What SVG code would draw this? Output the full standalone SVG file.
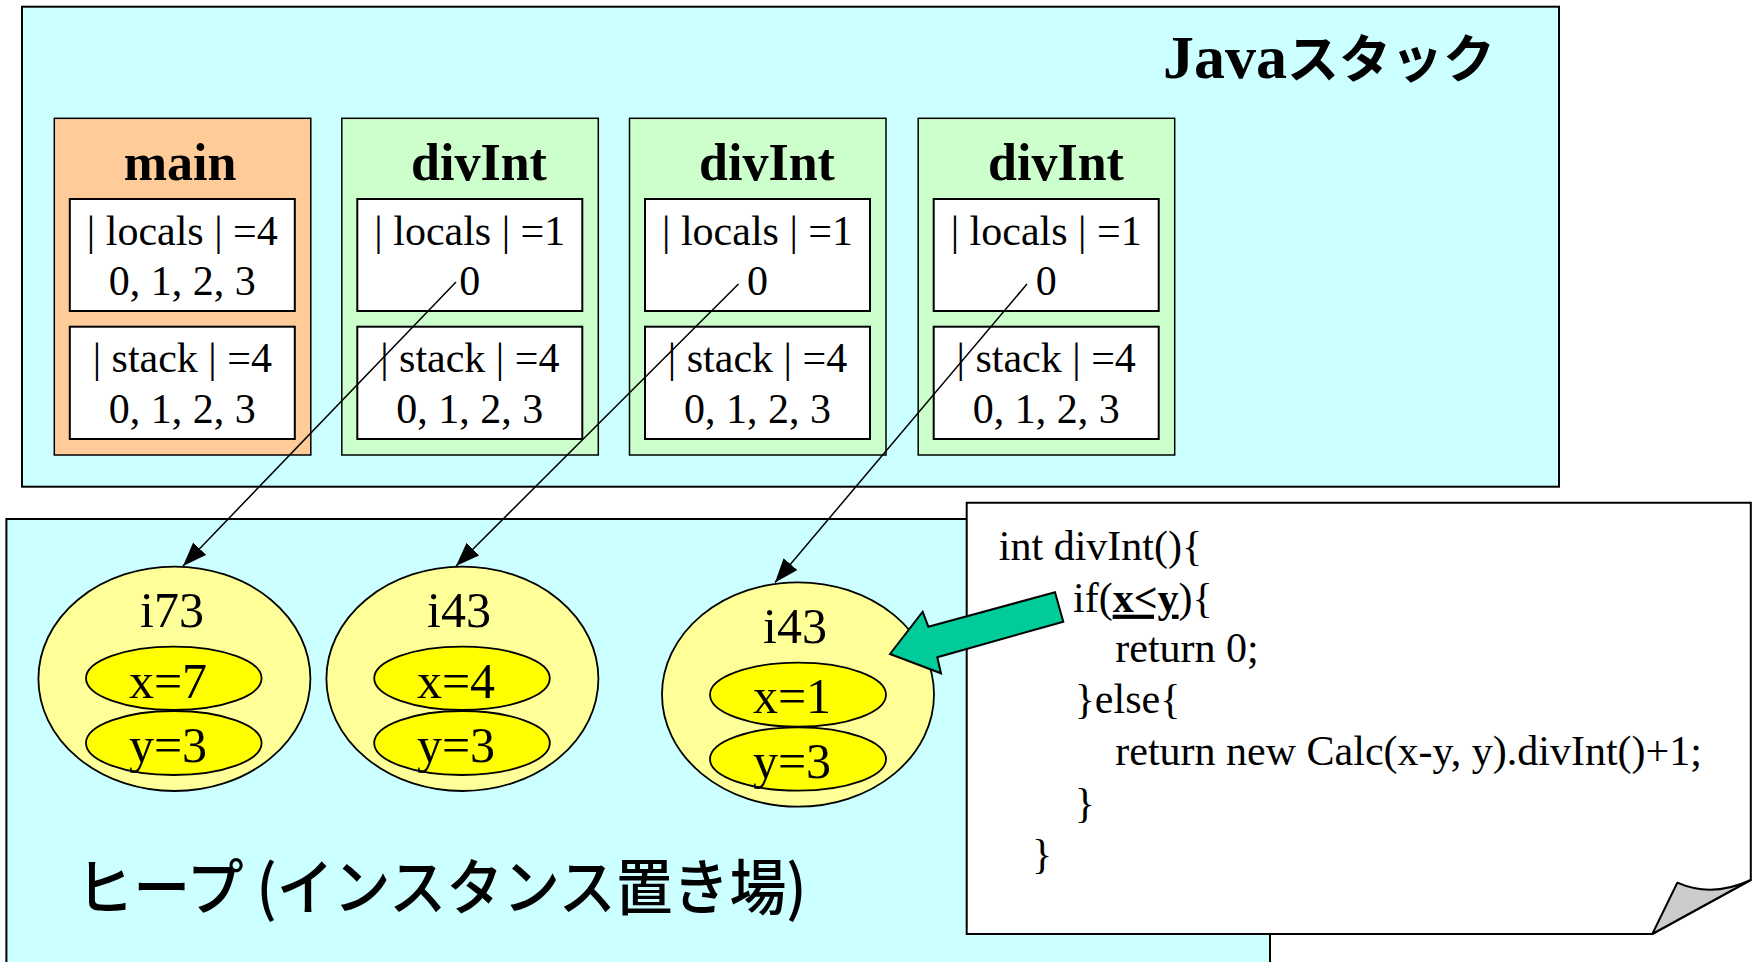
<svg xmlns="http://www.w3.org/2000/svg" width="1755" height="962" viewBox="0 0 1755 962">
<style>
.box{stroke:#000;stroke-width:2}
.area{fill:#CCFFFF;stroke:#000;stroke-width:2}
.mainf{fill:#FFCC99;stroke:#000;stroke-width:1.5}
.divf{fill:#CCFFCC;stroke:#000;stroke-width:1.5}
.cell{fill:#FFFFFF;stroke:#000;stroke-width:2}
.obj{fill:#FFFF99;stroke:#000;stroke-width:1.8}
.fld{fill:#FFFF00;stroke:#000;stroke-width:1.8}
.t{font-family:"Liberation Serif","Times New Roman",serif;fill:#000}
.title{font-size:52px;font-weight:bold;text-anchor:middle}
.cellt{font-size:42px;text-anchor:middle}
.heapt{font-size:50px;text-anchor:middle}
.code{font-size:42px}
.conn{stroke:#000;stroke-width:1.5;fill:none}
</style>
<defs>
<marker id="ah" markerUnits="userSpaceOnUse" markerWidth="26" markerHeight="20" refX="24" refY="9" orient="auto">
<path d="M0,0 L24,9 L0,18 Z" fill="#000"/>
</marker>
</defs>

<g id="java-stack">
<rect class="area" x="22" y="6.7" width="1537" height="480"/>
<text class="t" x="1163" y="78" font-size="62" font-weight="bold">Java<tspan font-family="'Noto Sans CJK JP',sans-serif" font-size="52" font-weight="bold">スタック</tspan></text>
</g>

<g id="frame-main">
<rect class="mainf" x="54.3" y="118.3" width="256.5" height="336.7"/>
<text class="t title" x="180" y="180">main</text>
<rect class="cell" x="69.8" y="199" width="225" height="112"/>
<text class="t cellt" x="182.3" y="245">| locals | =4</text>
<text class="t cellt" x="182.3" y="295">0, 1, 2, 3</text>
<rect class="cell" x="69.8" y="326.7" width="225" height="112.3"/>
<text class="t cellt" x="182.3" y="372">| stack | =4</text>
<text class="t cellt" x="182.3" y="423">0, 1, 2, 3</text>
</g>

<g id="frame-divInt-1">
<rect class="divf" x="341.8" y="118.3" width="256.5" height="336.7"/>
<text class="t title" x="479" y="180">divInt</text>
<rect class="cell" x="357.3" y="199" width="225" height="112"/>
<text class="t cellt" x="469.8" y="245">| locals | =1</text>
<text class="t cellt" x="469.8" y="295">0</text>
<rect class="cell" x="357.3" y="326.7" width="225" height="112.3"/>
<text class="t cellt" x="469.8" y="372">| stack | =4</text>
<text class="t cellt" x="469.8" y="423">0, 1, 2, 3</text>
</g>

<g id="frame-divInt-2">
<rect class="divf" x="629.5" y="118.3" width="256.5" height="336.7"/>
<text class="t title" x="767" y="180">divInt</text>
<rect class="cell" x="645" y="199" width="225" height="112"/>
<text class="t cellt" x="757.5" y="245">| locals | =1</text>
<text class="t cellt" x="757.5" y="295">0</text>
<rect class="cell" x="645" y="326.7" width="225" height="112.3"/>
<text class="t cellt" x="757.5" y="372">| stack | =4</text>
<text class="t cellt" x="757.5" y="423">0, 1, 2, 3</text>
</g>

<g id="frame-divInt-3">
<rect class="divf" x="918.2" y="118.3" width="256.5" height="336.7"/>
<text class="t title" x="1056" y="180">divInt</text>
<rect class="cell" x="933.7" y="199" width="225" height="112"/>
<text class="t cellt" x="1046.2" y="245">| locals | =1</text>
<text class="t cellt" x="1046.2" y="295">0</text>
<rect class="cell" x="933.7" y="326.7" width="225" height="112.3"/>
<text class="t cellt" x="1046.2" y="372">| stack | =4</text>
<text class="t cellt" x="1046.2" y="423">0, 1, 2, 3</text>
</g>

<g id="heap">
<rect class="area" x="6.4" y="519" width="1263.6" height="470"/>
<text x="76.5" y="910" font-family="'Noto Sans CJK JP',sans-serif" font-size="61" font-weight="500" textLength="730" lengthAdjust="spacingAndGlyphs" fill="#000">ヒープ (インスタンス置き場)</text>
</g>

<g id="obj-i73">
<ellipse class="obj" cx="174.4" cy="678.8" rx="136" ry="112.2"/>
<text class="t heapt" x="172" y="626.7">i73</text>
<ellipse class="fld" cx="173.8" cy="678.3" rx="87.8" ry="31.7"/>
<text class="t heapt" x="168" y="698.3">x=7</text>
<ellipse class="fld" cx="173.8" cy="743" rx="87.8" ry="32"/>
<text class="t heapt" x="168" y="761.7">y=3</text>
</g>

<g id="obj-i43-a">
<ellipse class="obj" cx="462.4" cy="678.8" rx="136" ry="112.2"/>
<text class="t heapt" x="459" y="626.7">i43</text>
<ellipse class="fld" cx="462" cy="678.3" rx="87.8" ry="31.7"/>
<text class="t heapt" x="456" y="698.3">x=4</text>
<ellipse class="fld" cx="462" cy="743" rx="87.8" ry="32"/>
<text class="t heapt" x="456" y="761.7">y=3</text>
</g>

<g id="obj-i43-b">
<ellipse class="obj" cx="798" cy="694.5" rx="136" ry="112.2"/>
<text class="t heapt" x="795" y="642.7">i43</text>
<ellipse class="fld" cx="798" cy="694.7" rx="88" ry="32"/>
<text class="t heapt" x="792" y="713.3">x=1</text>
<ellipse class="fld" cx="798" cy="759" rx="88" ry="31.7"/>
<text class="t heapt" x="792" y="777.7">y=3</text>
</g>

<g id="code-note">
<path d="M966.7,502.7 H1750.8 V880 L1652.3,934 H966.7 Z" fill="#FFFFFF" stroke="#000" stroke-width="2"/>
<path d="M1652.3,934 L1677.3,882.7 Q1712,898 1750.8,880 Z" fill="#CCCCCC" stroke="#000" stroke-width="2" stroke-linejoin="round"/>
<text class="t code" x="998.8" y="560">int divInt(){</text>
<text class="t code" x="1073" y="611.7">if(<tspan font-weight="bold" text-decoration="underline">x&lt;y</tspan>){</text>
<text class="t code" x="1115.3" y="661.7">return 0;</text>
<text class="t code" x="1074.7" y="713">}else{</text>
<text class="t code" x="1115.3" y="765">return new Calc(x-y, y).divInt()+1;</text>
<text class="t code" x="1074.7" y="816.7">}</text>
<text class="t code" x="1032" y="868">}</text>
</g>

<g id="connectors">
<line class="conn" x1="456" y1="282" x2="183" y2="566" marker-end="url(#ah)"/>
<line class="conn" x1="738.5" y1="284" x2="456" y2="566" marker-end="url(#ah)"/>
<line class="conn" x1="1027" y1="284" x2="775" y2="582.5" marker-end="url(#ah)"/>
<polygon points="890,654 922.7,611.7 928.3,626.7 1055,592.3 1063.3,621.7 937.3,657.3 941,673.3" fill="#00CC99" stroke="#000" stroke-width="2" stroke-linejoin="miter"/>
</g>
</svg>
